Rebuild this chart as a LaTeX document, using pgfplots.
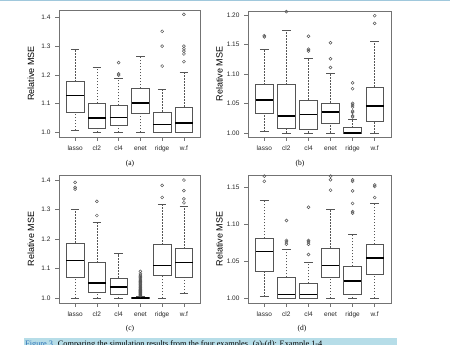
\documentclass[border=0pt]{standalone}
\usepackage{fontspec}
\setmainfont{Liberation Serif}
\newfontfamily\helv{Liberation Sans}
\usepackage{pgfplots}
\pgfplotsset{compat=1.18}
\usepgfplotslibrary{statistics}
\definecolor{boxgray}{RGB}{85,85,85}
\definecolor{framegray}{RGB}{115,115,115}
\definecolor{capblue}{RGB}{182,221,232}
\definecolor{figblue}{RGB}{40,110,180}
\definecolor{topline}{RGB}{160,200,220}

\pgfplotsset{
  rpanel/.style={
    scale only axis,
    xmin=0.26, xmax=6.74,
    xtick={1,2,3,4,5,6},
    xticklabels={lasso,cl2,cl4,enet,ridge,w.f},
    xtick pos=left, ytick pos=left,
    tick align=outside,
    major tick length=4pt,
    axis line style={framegray, line width=0.6pt},
    tick style={framegray, line width=0.6pt},
    /pgf/number format/assume math mode=true,
    ticklabel style={font=\helv\fontsize{6.5}{7}\selectfont, text=black!85},
    yticklabel style={xshift=-1pt},
    xticklabel style={yshift=-1.5pt},
    ylabel={Relative MSE},
    ylabel style={font=\helv\fontsize{9}{10}\selectfont, at={(axis description cs:-0.2,0.5)}, anchor=center},
  },
  rb/.style={
    draw=boxgray, line width=0.6pt,
    mark=o, mark size=1.5pt, mark options={solid, draw=boxgray, line width=0.5pt},
    boxplot/draw direction=y,
    boxplot/box extend=0.8,
    boxplot/every median/.style={draw=black, line width=1.6pt},
    boxplot/draw/lower whisker/.code={%
      \draw[boxgray, line width=0.6pt, dash pattern=on 1.5pt off 1.5pt]
        (boxplot box cs:\pgfplotsboxplotvalue{lower whisker},0.5) --
        (boxplot box cs:\pgfplotsboxplotvalue{lower quartile},0.5);
      \draw[boxgray, line width=0.6pt]
        (boxplot box cs:\pgfplotsboxplotvalue{lower whisker},0.25) --
        (boxplot box cs:\pgfplotsboxplotvalue{lower whisker},0.75);
    },
    boxplot/draw/upper whisker/.code={%
      \draw[boxgray, line width=0.6pt, dash pattern=on 1.5pt off 1.5pt]
        (boxplot box cs:\pgfplotsboxplotvalue{upper quartile},0.5) --
        (boxplot box cs:\pgfplotsboxplotvalue{upper whisker},0.5);
      \draw[boxgray, line width=0.6pt]
        (boxplot box cs:\pgfplotsboxplotvalue{upper whisker},0.25) --
        (boxplot box cs:\pgfplotsboxplotvalue{upper whisker},0.75);
    },
  },
}

\begin{document}
\begin{tikzpicture}
\useasboundingbox (0,0) rectangle (450pt,345pt);
\draw[topline, line width=1pt] (0,344.5pt) -- (450pt,344.5pt);

% ---------- (a) ----------
\begin{axis}[rpanel, at={(59pt,208pt)}, anchor=south west, width=141pt, height=127pt,
  ymin=0.984, ymax=1.426, ytick={1,1.1,1.2,1.3,1.4}, yticklabels={1.0,1.1,1.2,1.3,1.4}]
\addplot[rb, boxplot prepared={draw position=1, lower whisker=1.008, lower quartile=1.071, median=1.128, upper quartile=1.177, upper whisker=1.288}] coordinates {};
\addplot[rb, boxplot prepared={draw position=2, lower whisker=1.0, lower quartile=1.015, median=1.050, upper quartile=1.102, upper whisker=1.228}] coordinates {};
\addplot[rb, boxplot prepared={draw position=3, lower whisker=1.0, lower quartile=1.025, median=1.052, upper quartile=1.094, upper whisker=1.190}] coordinates {(0,1.243) (0,1.204) (0,1.199)};
\addplot[rb, boxplot prepared={draw position=4, lower whisker=1.0, lower quartile=1.066, median=1.103, upper quartile=1.154, upper whisker=1.264}] coordinates {};
\addplot[rb, boxplot prepared={draw position=5, lower whisker=1.0, lower quartile=1.0, median=1.028, upper quartile=1.071, upper whisker=1.151}] coordinates {(0,1.352) (0,1.300) (0,1.231)};
\addplot[rb, boxplot prepared={draw position=6, lower whisker=1.0, lower quartile=1.0, median=1.033, upper quartile=1.089, upper whisker=1.210}] coordinates {(0,1.411) (0,1.300) (0,1.291) (0,1.283) (0,1.273) (0,1.246)};
\end{axis}

% ---------- (b) ----------
\begin{axis}[rpanel, at={(248pt,208pt)}, anchor=south west, width=143pt, height=126pt,
  ymin=0.993, ymax=1.207, ytick={1,1.05,1.1,1.15,1.2}, yticklabels={1.00,1.05,1.10,1.15,1.20}]
\addplot[rb, boxplot prepared={draw position=1, lower whisker=1.002, lower quartile=1.033, median=1.056, upper quartile=1.082, upper whisker=1.142}] coordinates {(0,1.165) (0,1.163)};
\addplot[rb, boxplot prepared={draw position=2, lower whisker=1.0, lower quartile=1.007, median=1.029, upper quartile=1.082, upper whisker=1.175}] coordinates {(0,1.206)};
\addplot[rb, boxplot prepared={draw position=3, lower whisker=1.0, lower quartile=1.006, median=1.031, upper quartile=1.056, upper whisker=1.127}] coordinates {(0,1.164) (0,1.142) (0,1.139)};
\addplot[rb, boxplot prepared={draw position=4, lower whisker=1.0, lower quartile=1.017, median=1.035, upper quartile=1.051, upper whisker=1.102}] coordinates {(0,1.153) (0,1.126) (0,1.111)};
\addplot[rb, boxplot prepared={draw position=5, lower whisker=1.0, lower quartile=1.0, median=1.0, upper quartile=1.009, upper whisker=1.023}] coordinates {(0,1.085) (0,1.075) (0,1.050) (0,1.047) (0,1.044) (0,1.037) (0,1.035) (0,1.029) (0,1.027)};
\addplot[rb, boxplot prepared={draw position=6, lower whisker=1.0, lower quartile=1.019, median=1.046, upper quartile=1.078, upper whisker=1.156}] coordinates {(0,1.199) (0,1.186)};
\end{axis}

% ---------- (c) ----------
\begin{axis}[rpanel, at={(59pt,42pt)}, anchor=south west, width=141pt, height=128pt,
  ymin=0.984, ymax=1.417, ytick={1,1.1,1.2,1.3,1.4}, yticklabels={1.0,1.1,1.2,1.3,1.4}]
\addplot[rb, boxplot prepared={draw position=1, lower whisker=1.0, lower quartile=1.071, median=1.128, upper quartile=1.187, upper whisker=1.302}] coordinates {(0,1.392) (0,1.375) (0,1.369)};
\addplot[rb, boxplot prepared={draw position=2, lower whisker=1.0, lower quartile=1.020, median=1.052, upper quartile=1.120, upper whisker=1.258}] coordinates {(0,1.328) (0,1.280)};
\addplot[rb, boxplot prepared={draw position=3, lower whisker=1.0, lower quartile=1.015, median=1.039, upper quartile=1.069, upper whisker=1.151}] coordinates {};
\addplot[rb, boxplot prepared={draw position=4, lower whisker=1.0, lower quartile=1.0, median=1.001, upper quartile=1.003, upper whisker=1.007}] coordinates {(0,1.009) (0,1.011) (0,1.013) (0,1.015) (0,1.017) (0,1.019) (0,1.021) (0,1.023) (0,1.025) (0,1.027) (0,1.029) (0,1.032) (0,1.035) (0,1.038) (0,1.041) (0,1.044) (0,1.047) (0,1.050) (0,1.053) (0,1.056) (0,1.059) (0,1.062) (0,1.066) (0,1.070) (0,1.074) (0,1.078) (0,1.083) (0,1.091)};
\addplot[rb, boxplot prepared={draw position=5, lower whisker=1.0, lower quartile=1.079, median=1.111, upper quartile=1.181, upper whisker=1.318}] coordinates {(0,1.382) (0,1.341)};
\addplot[rb, boxplot prepared={draw position=6, lower whisker=1.017, lower quartile=1.071, median=1.121, upper quartile=1.168, upper whisker=1.311}] coordinates {(0,1.400) (0,1.364) (0,1.336) (0,1.323)};
\end{axis}

% ---------- (d) ----------
\begin{axis}[rpanel, at={(248pt,42pt)}, anchor=south west, width=143pt, height=128pt,
  ymin=0.9935, ymax=1.1665, ytick={1,1.05,1.1,1.15}, yticklabels={1.00,1.05,1.10,1.15}]
\addplot[rb, boxplot prepared={draw position=1, lower whisker=1.002, lower quartile=1.036, median=1.063, upper quartile=1.081, upper whisker=1.132}] coordinates {(0,1.165) (0,1.158)};
\addplot[rb, boxplot prepared={draw position=2, lower whisker=1.0, lower quartile=1.0, median=1.005, upper quartile=1.028, upper whisker=1.066}] coordinates {(0,1.105) (0,1.078) (0,1.076) (0,1.073)};
\addplot[rb, boxplot prepared={draw position=3, lower whisker=1.0, lower quartile=1.0, median=1.005, upper quartile=1.020, upper whisker=1.048}] coordinates {(0,1.123) (0,1.078) (0,1.076) (0,1.073) (0,1.059)};
\addplot[rb, boxplot prepared={draw position=4, lower whisker=1.0, lower quartile=1.028, median=1.044, upper quartile=1.068, upper whisker=1.120}] coordinates {(0,1.165) (0,1.160) (0,1.146)};
\addplot[rb, boxplot prepared={draw position=5, lower whisker=1.0, lower quartile=1.005, median=1.023, upper quartile=1.043, upper whisker=1.086}] coordinates {(0,1.160) (0,1.158) (0,1.145) (0,1.128) (0,1.117) (0,1.115)};
\addplot[rb, boxplot prepared={draw position=6, lower whisker=1.0, lower quartile=1.032, median=1.054, upper quartile=1.073, upper whisker=1.128}] coordinates {(0,1.153) (0,1.151) (0,1.136)};
\end{axis}

% ---------- captions ----------
\node[font=\fontsize{7.5}{9}\selectfont] at (130pt,181pt) {(a)};
\node[font=\fontsize{7.5}{9}\selectfont] at (300pt,181pt) {(b)};
\node[font=\fontsize{7.5}{9}\selectfont] at (130pt,16pt) {(c)};
\node[font=\fontsize{7.5}{9}\selectfont] at (302pt,16pt) {(d)};
\fill[capblue] (24pt,0) rectangle (397pt,6.7pt);
\node[anchor=north west, inner sep=0pt, font=\fontsize{8.3}{10}\selectfont] at (25pt,4.2pt)
  {\textcolor{figblue}{Figure 3.} Comparing the simulation results from the four examples. (a)-(d): Example 1-4.};
\end{tikzpicture}
\end{document}
